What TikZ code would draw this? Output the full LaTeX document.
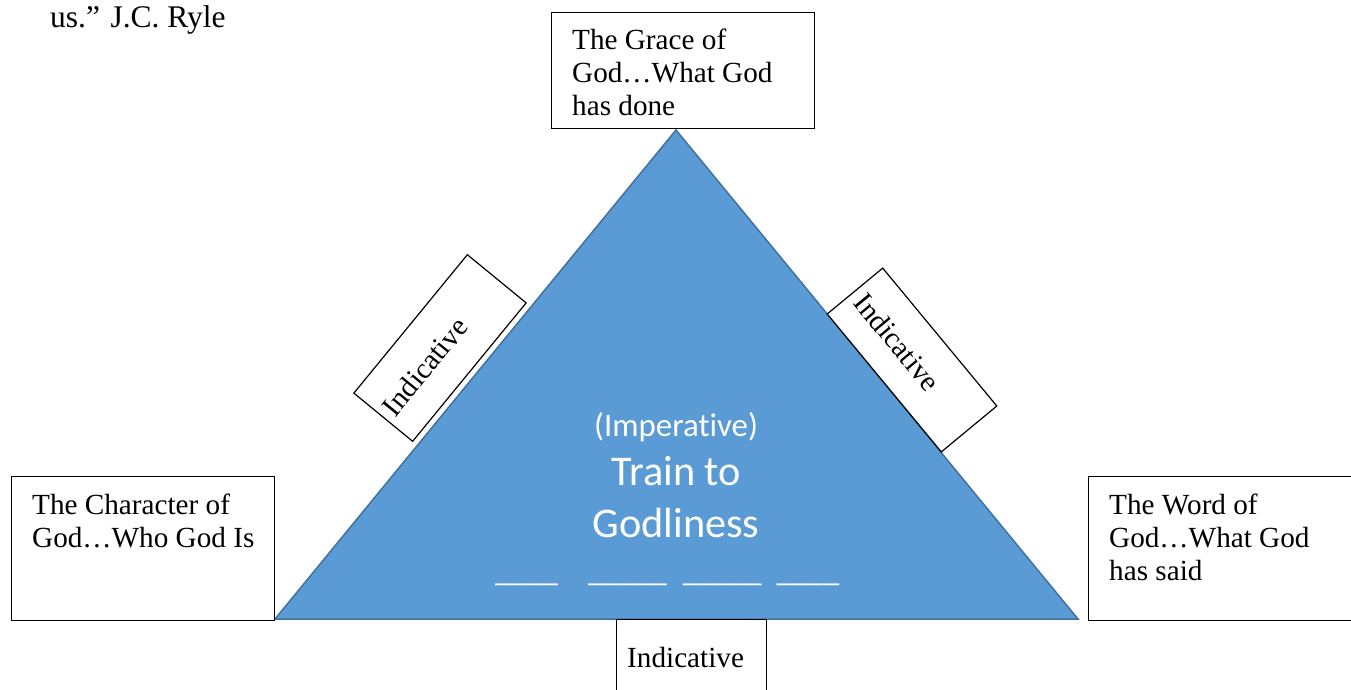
\documentclass[tikz,border=0pt]{standalone}
\usepackage{fontspec}
\setmainfont{Liberation Serif}
\newfontfamily\calibri[Ligatures=NoCommon]{Carlito}
\usetikzlibrary{calc}

\definecolor{triFill}{HTML}{5B9BD5}
\definecolor{triLine}{HTML}{41719C}

\begin{document}
\begin{tikzpicture}[x=1pt, y=-1pt,
				      textBox/.style={
						      draw, fill=white, line width=1.2pt,
						      inner sep=0pt, anchor=north west
					      },
				      boxText/.style={
						      anchor=north west, align=left,
						      inner xsep=21pt, inner ysep=16.4pt,
						      font=\fontsize{29.2}{33}\selectfont
					      },
				      slantBox/.style={
						      draw, fill=white, line width=1.2pt,
						      minimum width=179pt, inner sep=0pt
					      },
				      slantText/.style={
						      inner sep=0pt, font=\fontsize{29.2}{33}\selectfont
					      },
				      triText/.style={
						      text=white, anchor=base, inner sep=0pt
					      }
			      ]
			      \useasboundingbox (0,0) rectangle (1351,689);
			      \clip (0,0) rectangle (1351,689);

			      % Quote end
			      \node[inner sep=0pt, anchor=base west, font=\fontsize{31.5}{36}\selectfont] (quote) at (50,27) {us.'' J.C. Ryle};

			      % Triangle
			      \coordinate (apex) at (676,130);
			      \coordinate (baseL) at (275,619);
			      \coordinate (baseR) at (1078,619);
			      \draw[fill=triFill, draw=triLine, line width=1.5pt, line join=miter] (apex) -- (baseR) -- (baseL) -- cycle;

			      \node[triText, font=\calibri\fontsize{32.9}{40}\selectfont] (imp) at (676,436) {(Imperative)};
			      \node[triText, font=\calibri\fontsize{42.3}{51}\selectfont] (train) at (676,485) {Train to};
			      \node[triText, font=\calibri\fontsize{42.3}{51}\selectfont] (godly) at (676,537) {Godliness};
			      \node[triText, anchor=base west, font=\calibri\fontsize{31.6}{40}\selectfont] (blanks) at (495,581)
			      {\_\_\_\_\hspace{30pt}\_\_\_\_\_\hspace{16pt}\_\_\_\_\_\hspace{15pt}\_\_\_\_};

			      % Corner boxes
			      \node[textBox, minimum width=263pt, minimum height=116pt] (grace) at (551,12) {};
			      \node[boxText] (graceT) at (grace.north west) {The Grace of\\God\ldots What God\\has done};

			      \node[textBox, minimum width=263pt, minimum height=144pt] (charac) at (11,476) {};
			      \node[boxText, inner ysep=17.4pt] (characT) at (charac.north west) {The Character of\\God\ldots Who God Is};

			      \node[textBox, minimum width=263pt, minimum height=144pt] (word) at (1088,476) {};
			      \node[boxText, inner ysep=17.4pt] (wordT) at (word.north west) {The Word of\\God\ldots What God\\has said};

			      \node[textBox, minimum width=150pt, minimum height=100pt] (bottom) at (616,619) {};
			      \node[boxText, inner xsep=11pt, inner ysep=27.8pt] (bottomT) at (bottom.north west) {Indicative};

			      % Slanted boxes along the sides
			      \node[slantBox, minimum height=76pt, rotate=50.65] (sideL) at (440,348) {};
			      \node[slantText, rotate=50.65] (sideLT) at ($(sideL.center)!24pt!(sideL.west)$) {Indicative};

			      \node[slantBox, minimum height=72pt, rotate=-50.4] (sideR) at (912,360) {};
			      \node[slantText, rotate=-50.4] (sideRT) at ($(sideR.center)!23pt!(sideR.west)$) {Indicative};
		      \end{tikzpicture}
\end{document}
